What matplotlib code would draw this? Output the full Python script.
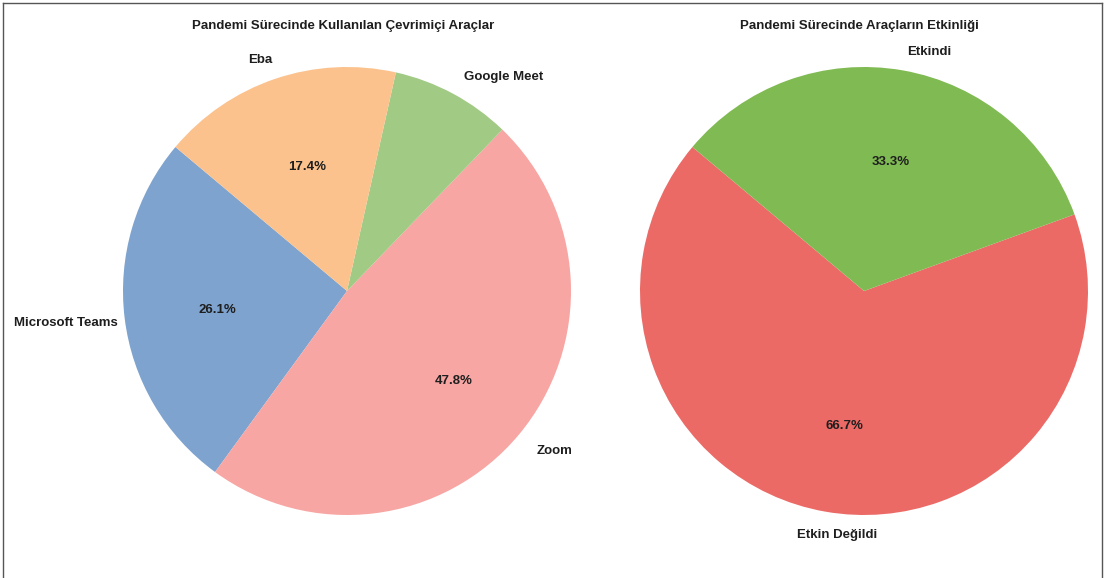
import matplotlib
matplotlib.use("Agg")
import matplotlib.pyplot as plt
from matplotlib.lines import Line2D

plt.rcParams['font.family'] = ['Liberation Sans', 'DejaVu Sans']

# Data
tools_labels = ["Microsoft Teams", "Zoom", "Google Meet", "Eba"]
tools_values = [6, 11, 2, 4]
tools_colors = ["#7ea3ce", "#f7a6a3", "#a1ca84", "#fbc28d"]

eff_labels = ["Etkin Değildi", "Etkindi"]
eff_values = [2, 1]
eff_colors = ["#ec6a66", "#80ba52"]

title_left = "Pandemi Sürecinde Kullanılan Çevrimiçi Araçlar"
title_right = "Pandemi Sürecinde Araçların Etkinliği"

W, H = 1105, 578
fig = plt.figure(figsize=(W / 100, H / 100), dpi=100)

R = 224
side = 2.5 * R


def make_ax(cx, cy):
    return fig.add_axes([(cx - side / 2) / W, (H - cy - side / 2) / H, side / W, side / H])


def pct_fmt(p):
    return f"{p:.1f}%" if p >= 10 else ""


txt = dict(fontsize=9.5, fontweight="bold", color="#1e1e1e")

# label placement (layout, in pie-radius units): (x, y, ha)
left_label_pos = [(-1.022, -0.145, "right"), (0.845, -0.714, "left"),
                  (0.701, 0.955, "center"), (-0.388, 1.031, "center")]
right_label_pos = [(-0.121, -1.089, "center"), (0.290, 1.067, "center")]
pct_shift = (0.015, -0.014)

def place(labels, pcts, positions):
    for t, (x, y, ha) in zip(labels, positions):
        t.set_position((x, y))
        t.set_ha(ha)
        t.set_va("center")
    for p in pcts:
        x, y = p.get_position()
        p.set_position((x + pct_shift[0], y + pct_shift[1]))

ax1 = make_ax(347, 291)
_, lt1, pt1 = ax1.pie(tools_values, labels=tools_labels, colors=tools_colors, startangle=140,
                      autopct=pct_fmt, textprops=txt)
place(lt1, pt1, left_label_pos)
ax1.set_xlim(-1.25, 1.25)
ax1.set_ylim(-1.25, 1.25)
ax1.set_aspect("equal")

ax2 = make_ax(864, 291)
_, lt2, pt2 = ax2.pie(eff_values, labels=eff_labels, colors=eff_colors, startangle=140,
                      autopct=pct_fmt, textprops=txt)
place(lt2, pt2, right_label_pos)
ax2.set_xlim(-1.25, 1.25)
ax2.set_ylim(-1.25, 1.25)
ax2.set_aspect("equal")

fig.text(343 / W, 1 - 26 / H, title_left, ha="center", va="center", **txt)
fig.text(859 / W, 1 - 26 / H, title_right, ha="center", va="center", **txt)

# frame
fc = "#555555"
fig.add_artist(Line2D([3 / W, 1102 / W], [1 - 3 / H, 1 - 3 / H], color=fc, lw=1))
fig.add_artist(Line2D([3 / W, 3 / W], [0, 1 - 3 / H], color=fc, lw=1))
fig.add_artist(Line2D([1102 / W, 1102 / W], [0, 1 - 3 / H], color=fc, lw=1))

fig.savefig("out.png", dpi=100)
